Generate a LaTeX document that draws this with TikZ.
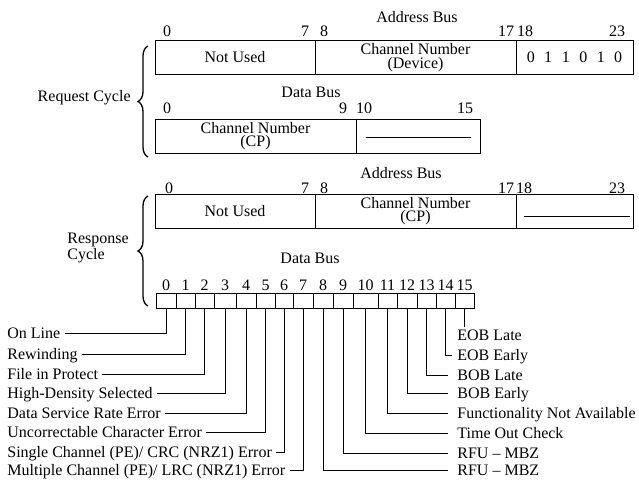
\documentclass[tikz,border=0pt]{standalone}
\usepackage{fontspec}
\setmainfont{Liberation Serif}
\usetikzlibrary{decorations.pathreplacing,calc}
\begin{document}
\begin{tikzpicture}[x=1pt,y=-1pt,
  font=\fontsize{16}{13.5}\selectfont, line width=0.8pt,
  seg/.style={draw, inner sep=0pt, align=center, minimum height=34pt},
  bitbox/.style={draw, inner sep=0pt, minimum height=15pt},
  num/.style={inner sep=0pt, anchor=base},
  title/.style={inner sep=0pt},
  llab/.style={inner ysep=0pt, inner xsep=4pt, anchor=west, text height=10.5pt, text depth=0pt},
  rlab/.style={inner ysep=0pt, inner xsep=9pt, anchor=west, text height=10.5pt, text depth=0pt},
  leader/.style={line width=0.8pt},
  cbrace/.style={decorate, decoration={brace, amplitude=10pt}, line width=1.3pt}]
\useasboundingbox (0,0) rectangle (639,479);

% ---------------- Request cycle ----------------
\node[title] (tab1) at (417,17) {Address Bus};
\node[seg, minimum width=160pt] (ra1) at (235,57.5) {Not Used};
\node[seg, minimum width=201pt] (ra2) at (415.5,57.5) {Channel Number\\(Device)};
\node[seg, minimum width=117pt] (ra3) at (574.5,57.5) {0\hspace{9.5pt}1\hspace{9.5pt}1\hspace{9.5pt}0\hspace{9.5pt}1\hspace{9.5pt}0};
\node[num] (n1a) at (167,36) {0};
\node[num] (n1b) at (305,36) {7};
\node[num] (n1c) at (324,36) {8};
\node[num] (n1d) at (506,36) {17};
\node[num] (n1e) at (525,36) {18};
\node[num] (n1f) at (617,36) {23};

\node[title] (tdb1) at (311,92) {Data Bus};
\node[seg, minimum width=201pt] (rd1) at (255.5,136) {Channel Number\\(CP)};
\node[seg, minimum width=124pt] (rd2) at (418,136) {};
\draw (366,137) -- (471,137);
\node[num] (n2a) at (167,113) {0};
\node[num] (n2b) at (343,113) {9};
\node[num] (n2c) at (364,113) {10};
\node[num] (n2d) at (465,113) {15};

\draw[cbrace] (148,157) -- (148,46);
\node[title, anchor=east] (req) at (131,98) {Request Cycle};

% ---------------- Response cycle ----------------
\node[title] (tab2) at (401,173) {Address Bus};
\node[seg, minimum width=160pt] (sa1) at (235,211) {Not Used};
\node[seg, minimum width=201pt] (sa2) at (415.5,211) {Channel Number\\(CP)};
\node[seg, minimum width=117pt] (sa3) at (574.5,211) {};
\draw (524,216) -- (630,216);
\node[num] (n3a) at (169,193) {0};
\node[num] (n3b) at (305,193) {7};
\node[num] (n3c) at (324,193) {8};
\node[num] (n3d) at (506,193) {17};
\node[num] (n3e) at (524,193) {18};
\node[num] (n3f) at (617,193) {23};

\node[title] (tdb2) at (310,258) {Data Bus};

\draw[cbrace] (148,306) -- (148,196);
\node[title, anchor=west, align=left] (resp) at (67,248) {Response\\Cycle};

% bit boxes
\foreach \i/\a/\b in {0/156/176,1/176/195,2/195/214,3/214/236,4/236/256,5/256/275,6/275/293,7/293/313,8/313/333,9/333/353,10/353/378,11/378/397,12/397/417,13/417/436,14/436/455,15/455/474}{
  \node[bitbox, minimum width={\b-\a}] (b\i) at ({(\a+\b)/2},300.5) {};
  \node[num] (bn\i) at ({(\a+\b)/2},290) {\i};
}

% left labels
\node[llab] (l0) at (3,333) {On Line};
\node[llab] (l1) at (3,354) {Rewinding};
\node[llab] (l2) at (3,374) {File in Protect};
\node[llab] (l3) at (3,393) {High-Density Selected};
\node[llab] (l4) at (3,413) {Data Service Rate Error};
\node[llab] (l5) at (3,432) {Uncorrectable Character Error};
\node[llab] (l6) at (3,452) {Single Channel (PE)/ CRC (NRZ1) Error};
\node[llab] (l7) at (3,470.5) {Multiple Channel (PE)/ LRC (NRZ1) Error};
\foreach \i in {0,...,7}{
  \draw[leader] (l\i.east) -| (b\i.south);
}

% right labels
\node[rlab] (r15) at (448,335) {EOB Late};
\node[rlab, inner xsep=5pt] (r14) at (452,355) {EOB Early};
\node[rlab] (r13) at (448,375) {BOB Late};
\node[rlab] (r12) at (448,393) {BOB Early};
\node[rlab] (r11) at (448,413) {Functionality Not Available};
\node[rlab] (r10) at (448,433) {Time Out Check};
\node[rlab] (r9) at (448,453) {RFU -- MBZ};
\node[rlab] (r8) at (448,470.5) {RFU -- MBZ};
\coordinate (e15) at (464.5,327);
\draw[leader] (b15.south) -- (e15);
\foreach \i in {8,...,14}{
  \draw[leader] (b\i.south) |- (r\i.west);
}
\end{tikzpicture}
\end{document}
